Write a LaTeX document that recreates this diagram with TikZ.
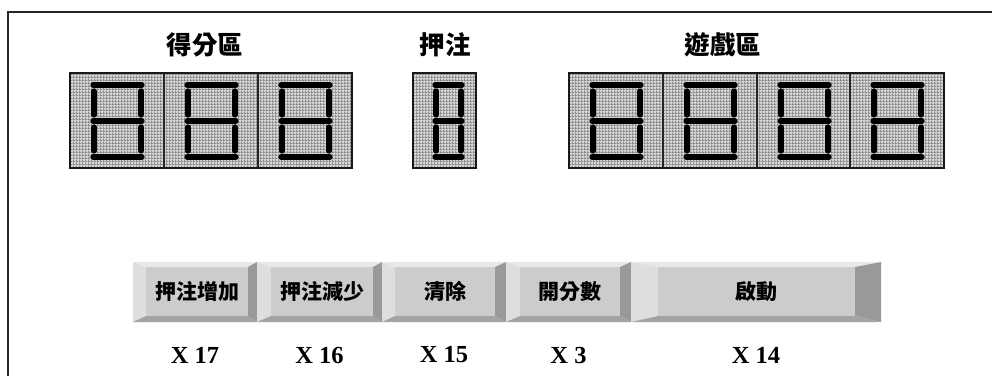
\documentclass[tikz,border=0pt]{standalone}
\usepackage{fontspec}
\usetikzlibrary{patterns}
\newfontfamily\cjk{Noto Sans CJK TC}
\setmainfont{Liberation Serif}
\definecolor{meshbg}{HTML}{D4D4D4}
\definecolor{meshln}{HTML}{8A8A8A}
\definecolor{btop}{HTML}{E8E8E8}
\definecolor{bleft}{HTML}{DEDEDE}
\definecolor{bface}{HTML}{CCCCCC}
\definecolor{bright}{HTML}{999999}
\definecolor{bbottom}{HTML}{A3A3A3}
\pgfdeclarepatternformonly{mesh}{\pgfqpoint{0pt}{0pt}}{\pgfqpoint{2.6pt}{2.6pt}}{\pgfqpoint{2.6pt}{2.6pt}}{%
  \pgfpathrectangle{\pgfqpoint{0pt}{0pt}}{\pgfqpoint{2.6pt}{0.9pt}}%
  \pgfpathrectangle{\pgfqpoint{0pt}{0pt}}{\pgfqpoint{0.9pt}{2.6pt}}%
  \pgfusepath{fill}}
\newcommand\digitcell[3]{% left, right, name
  \fill[meshbg] (#1,73) rectangle (#2,168);
  \fill[pattern=mesh,pattern color=meshln] (#1,73) rectangle (#2,168);
  \coordinate (#3) at (#1,73);
  \begin{scope}[shift={(#1,0)}]
    \draw[segment] (23,85) -- (72,85);
    \draw[segment] (23,121) -- (72,121);
    \draw[segment] (23,157) -- (72,157);
    \draw[segment] (24,91) -- (24,115);
    \draw[segment] (71,91) -- (71,115);
    \draw[segment] (24,127) -- (24,151);
    \draw[segment] (71,127) -- (71,151);
  \end{scope}
  \draw[cellsep] (#1,73) rectangle (#2,168);
}
\newcommand\keybtn[7]{% x0 x1 xf0 xf1 name label code
  \fill[btop] (#1,262) -- (#2,262) -- (#4,267) -- (#3,267) -- cycle;
  \fill[bleft] (#1,262) -- (#3,267) -- (#3,316) -- (#1,322) -- cycle;
  \fill[bright] (#2,262) -- (#2,322) -- (#4,316) -- (#4,267) -- cycle;
  \fill[bbottom] (#1,322) -- (#3,316) -- (#4,316) -- (#2,322) -- cycle;
  \fill[bface] (#3,267) rectangle (#4,316);
  \node[btnlabel] (#5) at ({(#3+#4)/2},291.5) {#6};
  \node[codelabel] (#5x) at ({(#1+#2)/2},355) {#7};
}
\begin{document}
\begin{tikzpicture}[x=1pt,y=-1pt,
  segment/.style={line width=5.2pt,line cap=round,black},
  cellsep/.style={line width=1.4pt,black!85},
  grpframe/.style={line width=2.2pt,black!90},
  title/.style={font=\cjk\bfseries\fontsize{25.5}{28}\selectfont,inner sep=0pt},
  btnlabel/.style={font=\cjk\bfseries\fontsize{21}{24}\selectfont,inner sep=0pt},
  codelabel/.style={font=\bfseries\fontsize{24.5}{28}\selectfont,inner sep=0pt}]
\useasboundingbox (0,0) rectangle (992,376);
\fill[white] (0,0) rectangle (992,376);
\draw[line width=2pt,black!85] (8,376) -- (8,12) -- (992,12);

% titles
\node[title] (t1) at (205,45) {得分區};
\node[title] (t2) at (445,45) {押注};
\node[title] (t3) at (723,45) {遊戲區};

% score digits
\digitcell{70}{164}{d1}
\digitcell{164}{258}{d2}
\digitcell{258}{352}{d3}
\draw[grpframe] (70,73) rectangle (352,168);
% bet digit
\fill[meshbg] (413,73) rectangle (476,168);
\fill[pattern=mesh,pattern color=meshln] (413,73) rectangle (476,168);
\draw[segment] (435,85) -- (462,85);
\draw[segment] (435,121) -- (462,121);
\draw[segment] (435,157) -- (462,157);
\draw[segment] (436,91) -- (436,115);
\draw[segment] (461,91) -- (461,115);
\draw[segment] (436,127) -- (436,151);
\draw[segment] (461,127) -- (461,151);
\draw[grpframe] (413,73) rectangle (476,168);
\coordinate (b1) at (413,73);
% game digits
\digitcell{569}{663}{g1}
\digitcell{663}{757}{g2}
\digitcell{757}{850}{g3}
\digitcell{850}{944}{g4}
\draw[grpframe] (569,73) rectangle (944,168);

% buttons
\keybtn{133}{257}{146}{248}{k1}{押注增加}{X 17}
\keybtn{257}{382}{271}{373}{k2}{押注減少}{X 16}
\keybtn{382}{506}{395}{495}{k3}{清除}{X 15}
\keybtn{506}{631}{520}{620}{k4}{開分數}{X 3}
\keybtn{631}{881}{658}{855}{k5}{啟動}{X 14}
\end{tikzpicture}
\end{document}
